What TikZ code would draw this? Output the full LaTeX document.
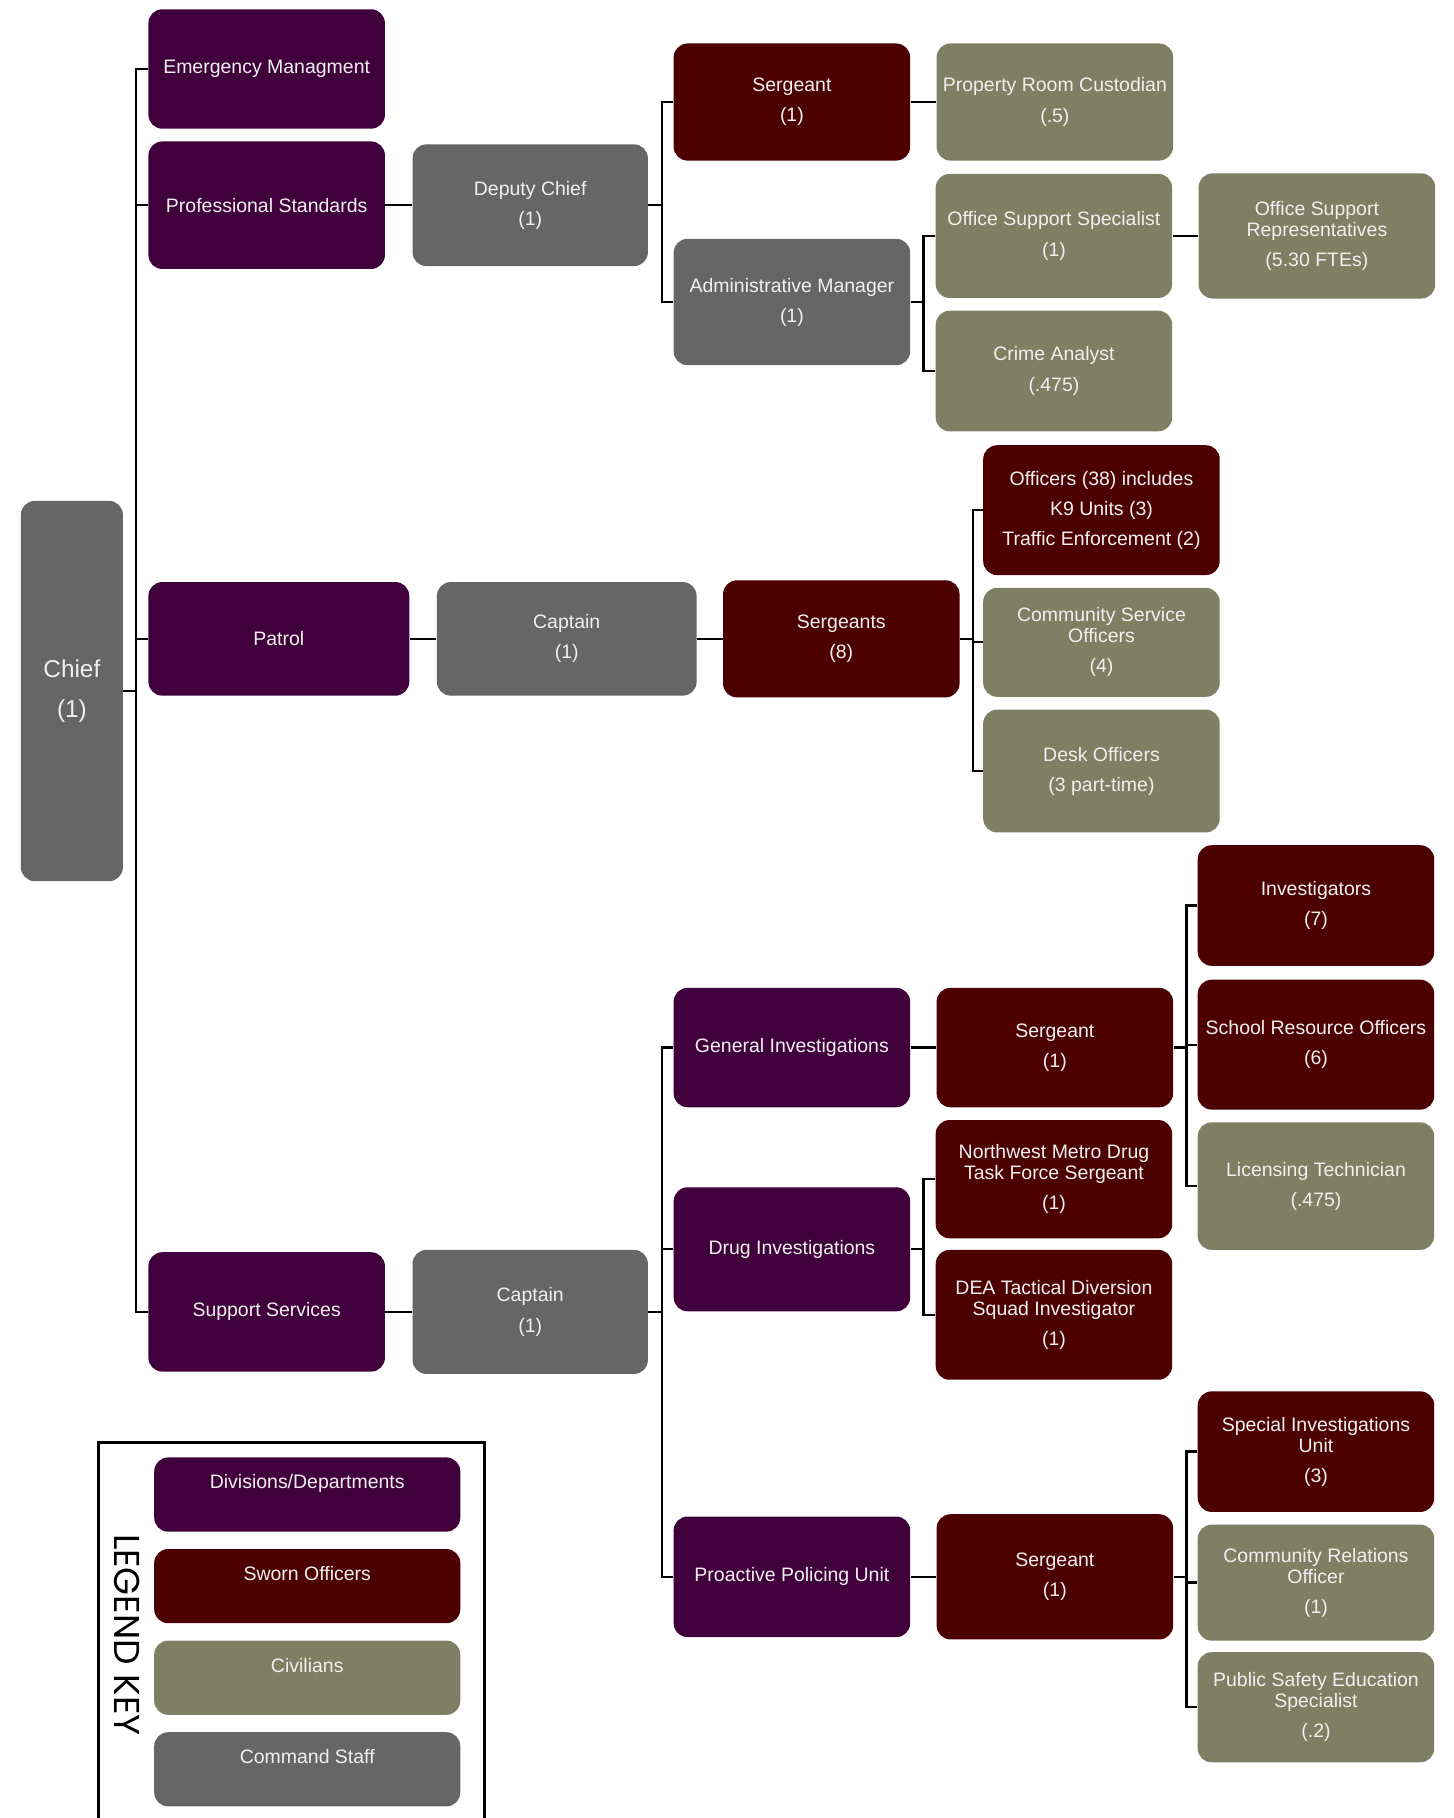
\documentclass[tikz,border=0pt]{standalone}
\usepackage{fontspec}
\setmainfont{Liberation Sans}
\newfontfamily\legendfont{Poppins}
\usetikzlibrary{positioning}
\definecolor{divpurple}{RGB}{63,0,60}
\definecolor{swornred}{RGB}{77,0,0}
\definecolor{civolive}{RGB}{127,127,99}
\definecolor{cmdgray}{RGB}{102,102,102}
\definecolor{boxtext}{RGB}{240,240,240}
\newcommand{\orgfont}{\fontsize{8.4}{9}\selectfont}

\begin{document}
\begin{tikzpicture}[x=0.5pt,y=-0.5pt,node distance=11pt and 11pt,inner sep=1pt]
\tikzstyle{orgbox}=[rectangle, rounded corners=6pt, minimum width=102pt, align=center, text=boxtext, font=\orgfont]
\tikzstyle{div}=[orgbox, fill=divpurple]
\tikzstyle{sworn}=[orgbox, fill=swornred]
\tikzstyle{civ}=[orgbox, fill=civolive]
\tikzstyle{cmd}=[orgbox, fill=cmdgray]
\tikzstyle{link}=[draw=black, line width=1pt]
\useasboundingbox (0,0) rectangle (1254,1568);
% chief and divisions
\node[cmd, minimum width=44pt, minimum height=164pt, font=\fontsize{10.5}{12}\selectfont] (chief) at (62,596) {Chief\\[5pt](1)};
\node[div, minimum height=51.5pt] (em) at (230,59.5) {Emergency Managment};
\node[div, minimum height=55pt] (ps) at (230,177) {Professional Standards};
\node[div, minimum width=112.5pt, minimum height=49pt] (patrol) at (240.5,551) {Patrol};
\node[div, minimum height=51.5pt] (ss) at (230,1131.5) {Support Services};
% deputy chief
\node[cmd, minimum width=101.5pt, minimum height=52.5pt] (dc) [right=11.5pt of ps] {Deputy Chief\\[4pt](1)};
\node[sworn, minimum height=50.5pt] (sgt) at (683,88) {Sergeant\\[4pt](1)};
\node[cmd, minimum height=54.5pt] (adm) at (683,260.5) {Administrative Manager\\[4pt](1)};
\node[civ, minimum height=50.5pt] (prc) [right=11pt of sgt] {Property Room Custodian\\[4pt](.5)};
\node[civ, minimum height=53.5pt] (oss) at (909,203.5) {Office Support Specialist\\[4pt](1)};
\node[civ, minimum height=52pt] (crime) at (909,320) {Crime Analyst\\[4pt](.475)};
\node[civ, minimum height=54pt] (osr) [right=11pt of oss] {Office Support\\Representatives\\[4pt](5.30 FTEs)};
% patrol
\node[cmd, minimum width=112pt, minimum height=49pt] (capp) [right=11.5pt of patrol] {Captain\\[4pt](1)};
\node[sworn, minimum height=50.5pt] (sgts) [right=11pt of capp] {Sergeants\\[4pt](8)};
\node[sworn, minimum height=56pt] (officers) at (950,440) {Officers (38) includes\\[4pt]K9 Units (3)\\[4pt]Traffic Enforcement (2)};
\node[civ, minimum height=47pt] (cso) at (950,554) {Community Service\\Officers\\[4pt](4)};
\node[civ, minimum height=53pt] (desk) at (950,665) {Desk Officers\\[4pt](3 part-time)};
% support services
\node[cmd, minimum width=101.5pt, minimum height=53.5pt] (caps) [right=11.5pt of ss] {Captain\\[4pt](1)};
\node[div, minimum height=51.5pt] (gi) at (683,903.5) {General Investigations};
\node[sworn, minimum height=51.5pt] (sgtg) [right=11pt of gi] {Sergeant\\[4pt](1)};
\node[sworn, minimum height=52pt] (inv) at (1135,781) {Investigators\\[4pt](7)};
\node[sworn, minimum height=56pt] (sro) at (1135,901) {School Resource Officers\\[4pt](6)};
\node[civ, minimum height=55pt] (lic) at (1135,1023) {Licensing Technician\\[4pt](.475)};
\node[div, minimum height=53.5pt] (di) at (683,1077.5) {Drug Investigations};
\node[sworn, minimum height=51pt] (nwm) at (909,1017) {Northwest Metro Drug\\Task Force Sergeant\\[4pt](1)};
\node[sworn, minimum height=56pt] (dea) at (909,1134) {DEA Tactical Diversion\\Squad Investigator\\[4pt](1)};
\node[div, minimum height=52pt] (ppu) at (683,1360) {Proactive Policing Unit};
\node[sworn, minimum height=54pt] (sgtu) [right=11pt of ppu] {Sergeant\\[4pt](1)};
\node[sworn, minimum height=52pt] (siu) at (1135,1252) {Special Investigations\\Unit\\[4pt](3)};
\node[civ, minimum height=50pt] (cro) at (1135,1365) {Community Relations\\Officer\\[4pt](1)};
\node[civ, minimum height=47.5pt] (pse) at (1135,1472.5) {Public Safety Education\\Specialist\\[4pt](.2)};
% connectors
\foreach \c in {em,ps,patrol,ss} \draw[link] (chief.east) -- ++(11,0) |- (\c.west);
\draw[link] (ps) -- (dc);
\foreach \c in {sgt,adm} \draw[link] (dc.east) -- ++(12,0) |- (\c.west);
\draw[link] (sgt) -- (prc);
\foreach \c in {oss,crime} \draw[link] (adm.east) -- ++(11,0) |- (\c.west);
\draw[link] (oss) -- (osr);
\draw[link] (patrol) -- (capp) -- (sgts);
\foreach \c in {officers,cso,desk} \draw[link] (sgts.east) -- ++(11,0) |- (\c.west);
\draw[link] (ss) -- (caps);
\foreach \c in {gi,di,ppu} \draw[link] (caps.east) -- ++(12,0) |- (\c.west);
\draw[link] (gi) -- (sgtg);
\foreach \c in {inv,sro,lic} \draw[link] (sgtg.east) -- ++(11,0) |- (\c.west);
\foreach \c in {nwm,dea} \draw[link] (di.east) -- ++(11,0) |- (\c.west);
\draw[link] (ppu) -- (sgtu);
\foreach \c in {siu,cro,pse} \draw[link] (sgtu.east) -- ++(11,0) |- (\c.west);
% legend
\draw[line width=1pt] (85,1568) -- (85,1244) -- (418,1244) -- (418,1568);
\node[rotate=-90, font=\legendfont\fontsize{15.5}{17}\selectfont] (keytitle) at (110,1410) {LEGEND KEY};
\node[div, minimum width=132pt, minimum height=32pt] (kdiv) at (265,1289) {Divisions/Departments\\[2pt]\mbox{}};
\node[sworn, minimum width=132pt, minimum height=32pt] (ksworn) at (265,1368) {Sworn Officers\\[2pt]\mbox{}};
\node[civ, minimum width=132pt, minimum height=32pt] (kciv) at (265,1447) {Civilians\\[2pt]\mbox{}};
\node[cmd, minimum width=132pt, minimum height=32pt] (kcmd) at (265,1526) {Command Staff\\[2pt]\mbox{}};
\end{tikzpicture}
\end{document}
